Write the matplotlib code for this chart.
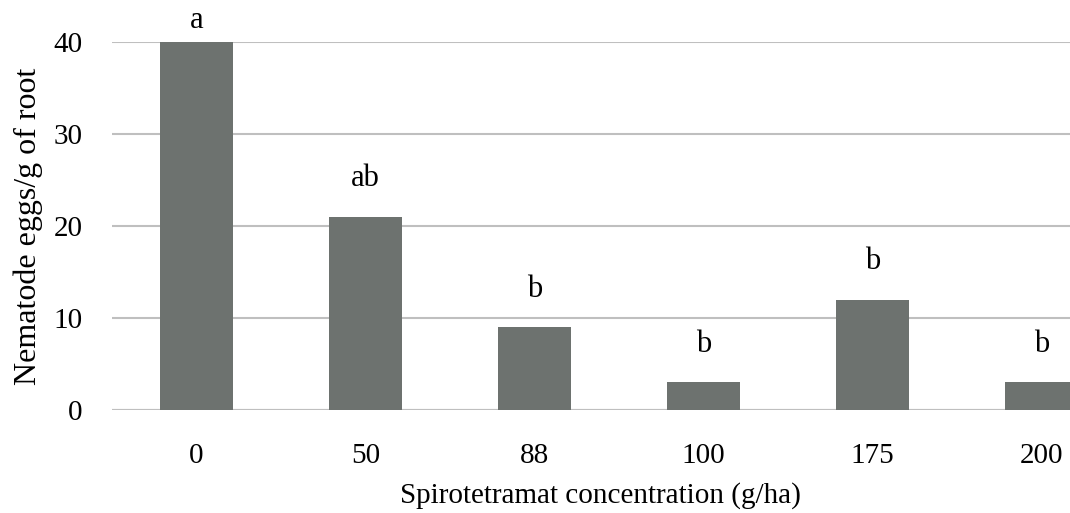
import matplotlib.pyplot as plt

plt.rcParams['font.family'] = ['Liberation Serif', 'DejaVu Serif']

concentrations = ['0', '50', '88', '100', '175', '200']
eggs = [40, 21, 9, 3, 12, 3]
letters = ['a', 'ab', 'b', 'b', 'b', 'b']

fig = plt.figure(figsize=(10.7, 5.13), dpi=100)
ax = fig.add_axes([112 / 1070, 103 / 513, 958 / 1070, 368 / 513])

x = range(len(concentrations))
ax.bar(x, eggs, width=0.43, color='#6d726f', zorder=3)

ymax = 40
# letras de significancia sobre cada barra (la del tope se baja para que quepa)
for i, (v, t) in enumerate(zip(eggs, letters)):
    off = 10 if v >= ymax else 22
    ax.annotate(t, (i, v), xytext=(0, off), textcoords='offset points',
                ha='center', va='baseline', fontsize=22)

ax.set_xlim(-0.5, 5.17)
ax.set_ylim(0, ymax)
ax.set_yticks([0, 10, 20, 30, 40])
ax.set_xticks(list(x))
ax.set_xticklabels(concentrations)
ax.tick_params(axis='both', length=0, labelsize=21)
ax.tick_params(axis='x', pad=24)
ax.tick_params(axis='y', pad=21)

ax.grid(axis='y', color='#bfbfbf', linewidth=1.5, zorder=0)
ax.set_axisbelow(True)
for s in ['top', 'right', 'left', 'bottom']:
    ax.spines[s].set_visible(False)
ax.axhline(0, color='#bfbfbf', linewidth=1.5, zorder=1)

ax.set_ylabel('Nematode eggs/g of root', fontsize=23)
ax.yaxis.set_label_coords(-0.072, 0.5)
ax.set_xlabel('Spirotetramat concentration (g/ha)', fontsize=21)
ax.xaxis.set_label_coords(0.51, -0.195)

fig.savefig('out.png', dpi=100)
